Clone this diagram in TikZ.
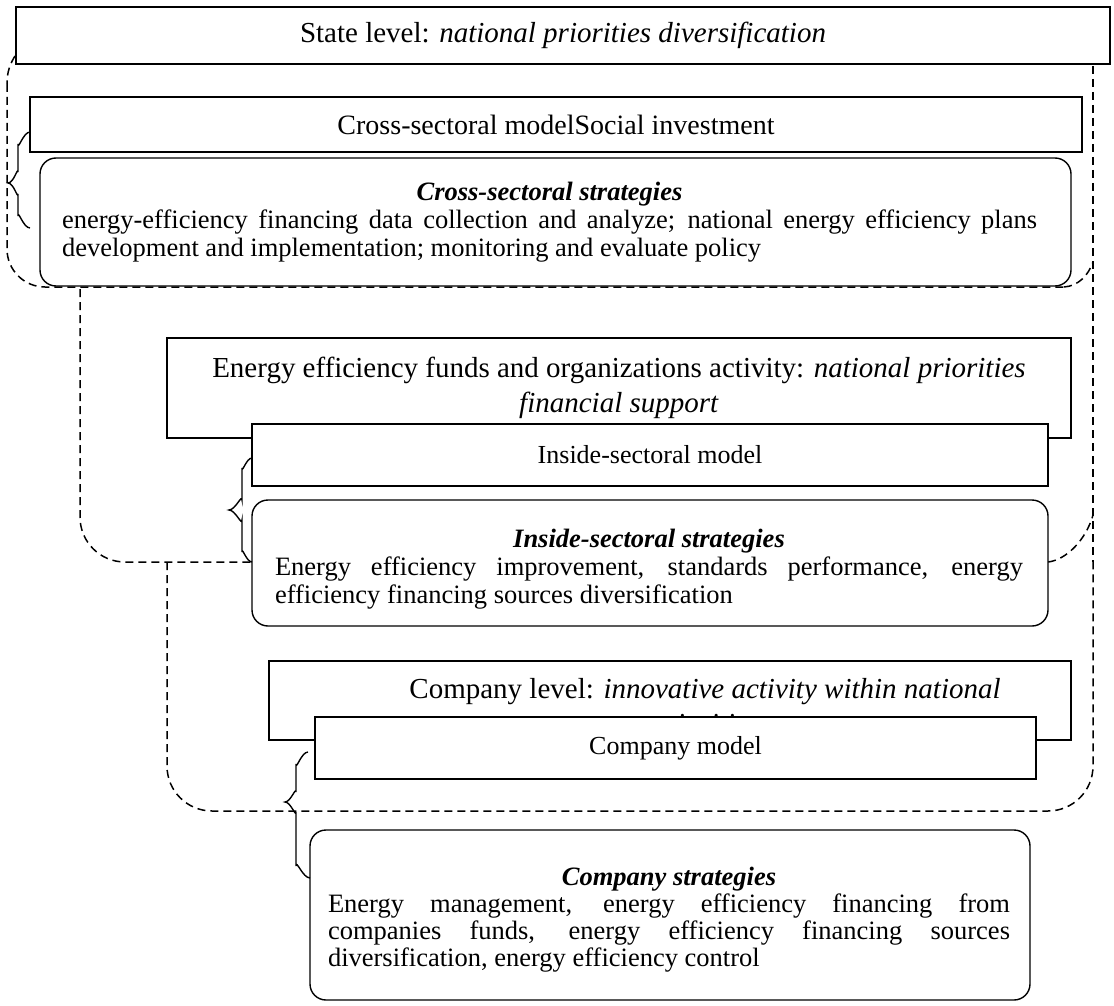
\documentclass[tikz,border=0pt]{standalone}
\usepackage{fontspec}
\setmainfont{Liberation Serif}
\newcommand\lvlfont{\fontsize{29}{35}\selectfont}
\newcommand\crossfont{\fontsize{28}{32}\selectfont}
\newcommand\modfont{\fontsize{26}{30}\selectfont}
\newcommand\bodyfont{\fontsize{26.5}{28}\selectfont}
\begin{document}
\begin{tikzpicture}[x=1pt,y=-1pt,
  sq/.style={draw, line width=1.4pt, fill=white, inner sep=0pt, align=center},
  rd/.style={sq, rounded corners=16pt},
  dsh/.style={dash pattern=on 8pt off 5pt, line width=1.5pt},
  brc/.style={line width=1.4pt},
  txt/.style={inner sep=0pt, align=center}]
\useasboundingbox[fill=white] (0,0) rectangle (1114,1006);

% dashed scopes
\draw[dsh] (15,56) .. controls (10,64) and (7,72) .. (7,84);
\draw[dsh, rounded corners=38pt] (7,84) -- (7,287) -- (1064,287);
\draw[dsh] (1064,287) .. controls (1078,286) and (1088,276) .. (1093,262);
\draw[dsh] (1093,66) -- (1093,562);
\draw[dsh, rounded corners=45pt] (80,289) -- (80,562) -- (252,562);
\draw[dsh] (1048,562) .. controls (1066,560) and (1086,540) .. (1093,515);
\draw[dsh, rounded corners=45pt] (167,562) -- (167,811) -- (1093,811) -- (1093,562);

% state level
\node[sq, minimum width=1094pt, minimum height=57pt, font=\lvlfont] (state) at (563,35.5)
  {State level: \textit{national priorities diversification}};

% cross-sectoral
\node[sq, minimum width=1052pt, minimum height=55pt, font=\crossfont] (crossmodel) at (556,124.5)
  {Cross-sectoral modelSocial investment};
\node[rd, minimum width=1031pt, minimum height=128pt] (crossstrat) at (555.5,222) {};
\node[txt, font=\bodyfont] (crossstrattext) at (549.5,222)
  {{\bfseries\itshape Cross-sectoral strategies}\\
   \makebox[975pt][s]{energy-efficiency financing data collection and analyze; national energy efficiency plans}\\
   \makebox[975pt][l]{development and implementation; monitoring and evaluate policy}};
\draw[brc] (30,132) to[out=180,in=-90] (18,144) -- (18,172) to[out=90,in=0] (8,183)
  to[out=0,in=-90] (18,194) -- (18,216) to[out=90,in=180] (30,228);

% inside-sectoral
\node[sq, minimum width=904pt, minimum height=100pt, font=\lvlfont] (funds) at (619,388)
  {Energy efficiency funds and organizations activity: \textit{national priorities}\\ \textit{financial support}};
\node[sq, minimum width=796pt, minimum height=62pt, font=\modfont] (insidemodel) at (650,455)
  {Inside-sectoral model};
\node[rd, minimum width=796pt, minimum height=126pt] (insidestrat) at (650,563) {};
\node[txt, font=\bodyfont] (insidestrattext) at (649,569)
  {{\bfseries\itshape Inside-sectoral strategies}\\
   \makebox[748pt][s]{Energy efficiency improvement, standards performance, energy}\\
   \makebox[748pt][l]{efficiency financing sources diversification}};
\draw[brc] (252,458) to[out=180,in=-90] (242,468) -- (242,500) to[out=90,in=0] (229,510)
  to[out=0,in=-90] (242,520) -- (242,552) to[out=90,in=180] (252,562);

% company
\node[sq, minimum width=802pt, minimum height=79pt] (complevel) at (670,700.5) {};
\node[txt, font=\lvlfont] (compleveltext) at (705,709)
  {Company level: \textit{innovative activity within national}\\ \textit{priorities}};
\node[sq, minimum width=721pt, minimum height=62pt, font=\modfont] (compmodel) at (675.5,748)
  {Company model};
\node[rd, minimum width=720pt, minimum height=170pt] (compstrat) at (670,915) {};
\node[txt, font=\fontsize{26.5}{27}\selectfont] (compstrattext) at (669,920)
  {{\bfseries\itshape Company strategies}\\
   \makebox[682pt][s]{Energy management, energy efficiency financing from}\\
   \makebox[682pt][s]{companies funds, energy efficiency financing sources}\\
   \makebox[682pt][l]{diversification, energy efficiency control}};
\draw[brc] (308,752) to[out=180,in=-90] (296,764) -- (296,792) to[out=90,in=0] (285,802)
  to[out=0,in=-90] (296,812) -- (296,866) to[out=90,in=180] (310,878);
\end{tikzpicture}
\end{document}
